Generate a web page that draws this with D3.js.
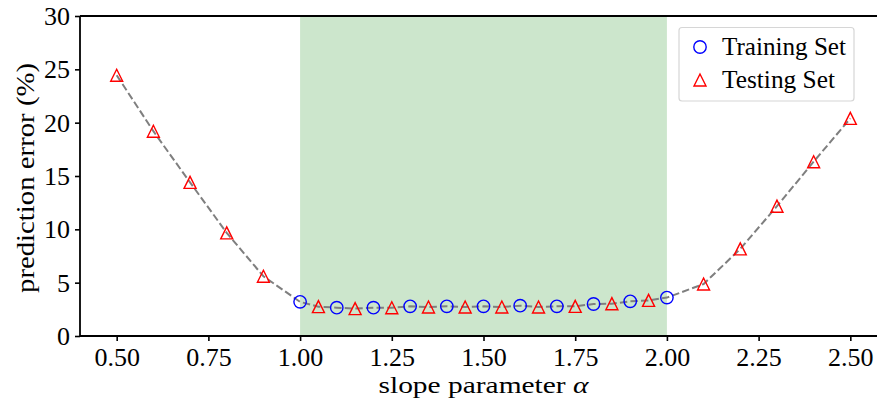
<!DOCTYPE html>
<html>
<head>
<meta charset="utf-8">
<script src="https://cdn.jsdelivr.net/npm/d3@7"></script>
<style>
  html, body { margin: 0; padding: 0; background: #fff; }
  svg { display: block; }
  text { font-family: "Liberation Serif", "DejaVu Serif", serif; fill: #000; }
</style>
</head>
<body>
<svg id="chart" width="877" height="403"></svg>
<script>
// Training-set error (circles) at slopes 1.0 .. 2.0
const trainAlpha = [1.0, 1.1, 1.2, 1.3, 1.4, 1.5, 1.6, 1.7, 1.8, 1.9, 2.0];
const trainError = [3.2, 2.66, 2.66, 2.78, 2.78, 2.78, 2.84, 2.78, 3.0, 3.25, 3.6];

// Testing-set error (triangles)
const testAlpha = [0.5, 0.6, 0.7, 0.8, 0.9, 1.05, 1.15, 1.25, 1.35, 1.45, 1.55, 1.65, 1.75, 1.85, 1.95, 2.1, 2.2, 2.3, 2.4, 2.5];
const testError = [24.45, 19.2, 14.4, 9.67, 5.6, 2.75, 2.57, 2.65, 2.72, 2.72, 2.72, 2.72, 2.78, 3.03, 3.34, 4.87, 8.17, 12.17, 16.34, 20.4];

const xTicks = [0.5, 0.75, 1.0, 1.25, 1.5, 1.75, 2.0, 2.25, 2.5];
const yTicks = [0, 5, 10, 15, 20, 25, 30];
const bandRange = [1.0, 2.0];
const legendLabels = ["Training Set", "Testing Set"];

const svg = d3.select("#chart");
const plotL = 80, plotR = 887, plotT = 16, plotB = 336;
const fs = 26;

const x = d3.scaleLinear().domain([0.4, 2.6]).range([plotL, plotR]);
const y = d3.scaleLinear().domain([0, 30]).range([plotB, plotT]);

// shaded region
svg.append("rect")
  .attr("x", x(bandRange[0]))
  .attr("y", plotT)
  .attr("width", x(bandRange[1]) - x(bandRange[0]))
  .attr("height", plotB - plotT)
  .attr("fill", "#cce6cc");

// dashed curve through all points in slope order
const allPts = trainAlpha.map((a, i) => [a, trainError[i]])
  .concat(testAlpha.map((a, i) => [a, testError[i]]))
  .sort((p, q) => p[0] - q[0]);

svg.append("path")
  .datum(allPts)
  .attr("fill", "none")
  .attr("stroke", "#7f7f7f")
  .attr("stroke-width", 2)
  .attr("stroke-dasharray", "7.4,3.2")
  .attr("d", d3.line().x(d => x(d[0])).y(d => y(d[1])));

// markers
const triPath = r => `M0,${-r}L${r},${r}L${-r},${r}Z`;

svg.append("g").selectAll("circle")
  .data(trainAlpha.map((a, i) => [a, trainError[i]]))
  .join("circle")
  .attr("cx", d => x(d[0]))
  .attr("cy", d => y(d[1]))
  .attr("r", 6.2)
  .attr("fill", "none")
  .attr("stroke", "#0000ff")
  .attr("stroke-width", 1.4);

svg.append("g").selectAll("path")
  .data(testAlpha.map((a, i) => [a, testError[i]]))
  .join("path")
  .attr("transform", d => `translate(${x(d[0])},${y(d[1])})`)
  .attr("d", triPath(6))
  .attr("fill", "none")
  .attr("stroke", "#ff0000")
  .attr("stroke-width", 1.4);

// axes
const xAxis = d3.axisBottom(x).tickValues(xTicks).tickFormat(d3.format(".2f")).tickSize(5).tickSizeOuter(0);
const yAxis = d3.axisLeft(y).tickValues(yTicks).tickFormat(d3.format("d")).tickSize(5).tickSizeOuter(0);

const gx = svg.append("g").attr("transform", `translate(0,${plotB})`).call(xAxis);
const gy = svg.append("g").attr("transform", `translate(${plotL},0)`).call(yAxis);

[gx, gy].forEach(g => {
  g.select(".domain").remove();
  g.selectAll(".tick line").attr("stroke", "#000").attr("stroke-width", 1.6);
  g.selectAll(".tick text").attr("font-size", fs).attr("font-family", "Liberation Serif");
});
gx.selectAll(".tick text").attr("dy", null).attr("y", 30);
gy.selectAll(".tick text").attr("x", -10).attr("dy", "0.33em");

// spines: left, bottom, top
svg.append("line").attr("x1", plotL).attr("x2", plotL).attr("y1", plotT).attr("y2", plotB)
  .attr("stroke", "#000").attr("stroke-width", 1.8);
svg.append("line").attr("x1", plotL).attr("x2", plotR).attr("y1", plotB).attr("y2", plotB)
  .attr("stroke", "#000").attr("stroke-width", 1.8);
svg.append("line").attr("x1", plotL).attr("x2", plotR).attr("y1", plotT).attr("y2", plotT)
  .attr("stroke", "#000").attr("stroke-width", 1.8);

// axis titles
const xt = svg.append("text")
  .attr("x", (plotL + plotR) / 2)
  .attr("y", 393)
  .attr("text-anchor", "middle")
  .attr("font-size", 24)
  .attr("textLength", 210)
  .attr("lengthAdjust", "spacingAndGlyphs");
xt.append("tspan").text("slope parameter  ");
xt.append("tspan").attr("font-style", "italic").text("\u03B1");

svg.append("text")
  .attr("transform", `translate(34,${(plotT + plotB) / 2 + 2}) rotate(-90)`)
  .attr("text-anchor", "middle")
  .attr("font-size", 25)
  .attr("textLength", 230)
  .attr("lengthAdjust", "spacingAndGlyphs")
  .text("prediction error (%)");

// legend
const lg = svg.append("g");
lg.append("rect")
  .attr("x", 679).attr("y", 27.5)
  .attr("width", 175).attr("height", 73.5)
  .attr("rx", 3).attr("ry", 3)
  .attr("fill", "#fff").attr("fill-opacity", 0.8)
  .attr("stroke", "#d6d6d6").attr("stroke-width", 1.2);

lg.append("circle").attr("cx", 700).attr("cy", 47).attr("r", 6.2)
  .attr("fill", "none").attr("stroke", "#0000ff").attr("stroke-width", 1.4);
lg.append("path").attr("transform", "translate(700,80)").attr("d", triPath(6))
  .attr("fill", "none").attr("stroke", "#ff0000").attr("stroke-width", 1.4);

lg.append("text").attr("x", 722).attr("y", 55).attr("font-size", 25)
  .attr("textLength", 124).attr("lengthAdjust", "spacingAndGlyphs").text(legendLabels[0]);
lg.append("text").attr("x", 722).attr("y", 88).attr("font-size", 25)
  .attr("textLength", 113).attr("lengthAdjust", "spacingAndGlyphs").text(legendLabels[1]);
</script>
</body>
</html>
